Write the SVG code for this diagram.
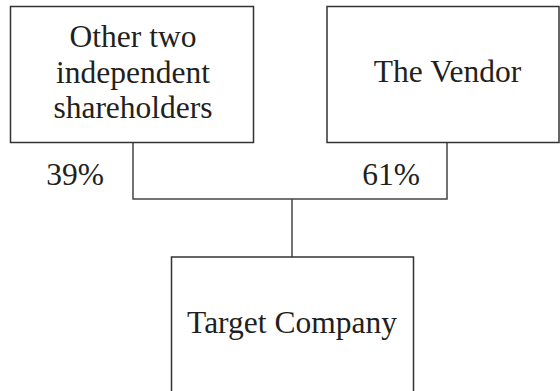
<svg xmlns="http://www.w3.org/2000/svg" width="560" height="391" viewBox="0 0 560 391">
<style>
.box{fill:#fff;stroke:#333;stroke-width:1.5}
.t{font-family:'Liberation Serif','Times New Roman','DejaVu Serif',serif;font-size:31.5px;fill:#231f20;text-anchor:middle}
.c{fill:none;stroke:#444;stroke-width:1.5}
</style>
<rect width="560" height="391" fill="#fff"/>
<g id="connectors">
<polyline class="c" points="133,142 133,199 447,199 447,142"/>
<line class="c" x1="292" y1="199" x2="292" y2="257"/>
</g>
<g id="other">
<rect class="box" x="10.5" y="6.5" width="243" height="136"/>
<text class="t" x="133" y="47">Other two</text>
<text class="t" x="133" y="83">independent</text>
<text class="t" x="133" y="118">shareholders</text>
</g>
<g id="vendor">
<rect class="box" x="327" y="6.5" width="232" height="136"/>
<text class="t" x="447.5" y="82">The Vendor</text>
</g>
<g id="target">
<rect class="box" x="171.5" y="257" width="242" height="150"/>
<text class="t" x="292" y="333">Target Company</text>
</g>
<g id="labels">
<text class="t" x="75" y="185">39%</text>
<text class="t" x="391" y="185">61%</text>
</g>
</svg>
